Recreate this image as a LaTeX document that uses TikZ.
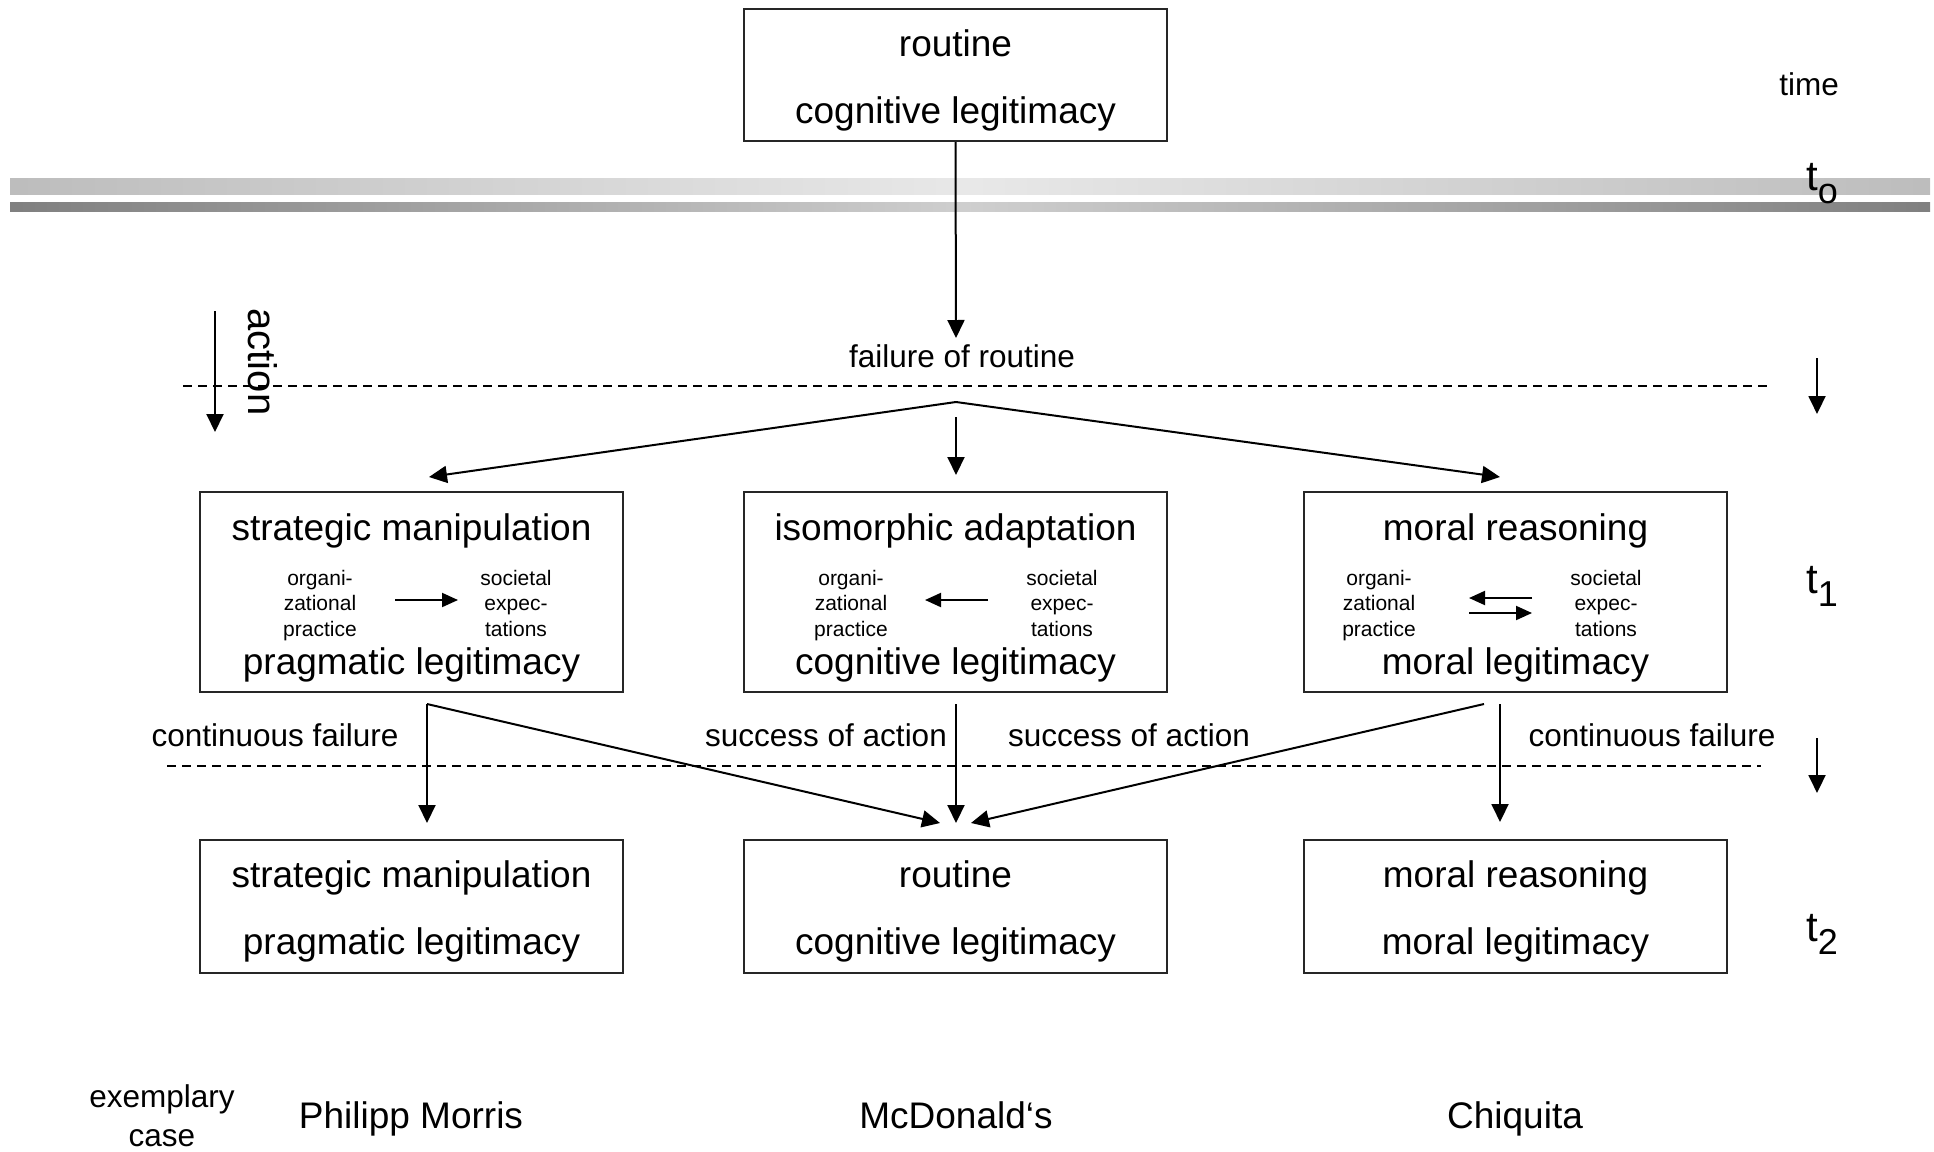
\documentclass[tikz,border=0pt]{standalone}
\usepackage{fontspec}
\setmainfont{Liberation Sans}
\usetikzlibrary{arrows.meta}
\begin{document}
\begin{tikzpicture}[x=1pt,y=-1pt,
  box/.style={draw=black!85, line width=2pt, rectangle, minimum width=423pt, inner sep=0pt},
  big/.style={font=\fontsize{37}{44}\selectfont, inner sep=0pt, anchor=base},
  mid/.style={font=\fontsize{31.5}{38.5}\selectfont, inner sep=0pt, align=center, anchor=base},
  small/.style={font=\fontsize{21}{25.5}\selectfont, align=center, inner sep=0pt, anchor=base},
  arr/.style={line width=2pt, -{Triangle[length=18pt,width=17pt]}},
  sarr/.style={line width=2pt, -{Triangle[length=16pt,width=14pt]}},
  dashline/.style={line width=1.5pt, dash pattern=on 9pt off 6pt},
  tlab/.style={inner sep=0pt, anchor=base west}]
\useasboundingbox (0,0) rectangle (1934,1151);
% time bars
\shade[left color=black!26, right color=black!26, middle color=black!9] (10,178) rectangle (1930,194);
\shade[left color=black!50, right color=black!50, middle color=black!19] (10,202) rectangle (1930,211);
% top box
\node[box, minimum height=132pt] (top) at (955.5,75) {};
\node[big] (topA) at (955.5,56) {routine};
\node[big] (topB) at (955.5,123) {cognitive legitimacy};
\node[mid] (time) at (1809,95) {time};
\node[tlab] (t0) at (1806,190) {\fontsize{42}{42}\selectfont t\raisebox{-13pt}{\fontsize{36}{36}\selectfont o}};
% failure of routine
\coordinate (ftip) at (956,338);
\draw[arr] (top.south) -- (ftip);
\node[mid] (fail) at (962,367) {failure of routine};
\coordinate (d1a) at (183,386);
\coordinate (d1b) at (1772,386);
\draw[dashline] (d1a) -- (d1b);
% action arrow
\coordinate (actA) at (215,311);
\coordinate (actB) at (215,432);
\draw[arr] (actA) -- (actB);
\node[inner sep=0pt, rotate=-90, font=\fontsize{40}{46}\selectfont] (action) at (263,362) {action};
\coordinate (ta1) at (1817,358);
\coordinate (tb1) at (1817,414);
\draw[arr] (ta1) -- (tb1);
% branching
\coordinate (apex) at (956,402);
\coordinate (lt) at (429,477);
\coordinate (rt) at (1500,477);
\coordinate (ms) at (956,417);
\coordinate (mt) at (956,475);
\draw[arr] (apex) -- (lt);
\draw[arr] (apex) -- (rt);
\draw[arr] (ms) -- (mt);
% middle boxes
\node[box, minimum height=200pt] (b1) at (411.5,592) {};
\node[box, minimum height=200pt] (b2) at (955.5,592) {};
\node[box, minimum height=200pt] (b3) at (1515.5,592) {};
\node[big] (b1a) at (411.5,540) {strategic manipulation};
\node[big] (b1b) at (411.5,674) {pragmatic legitimacy};
\node[small] (b1o) at (320,636) {organi-\\zational\\practice};
\node[small] (b1s) at (516,636) {societal\\expec-\\tations};
\coordinate (b1x) at (395,600);
\coordinate (b1y) at (458,600);
\draw[sarr] (b1x) -- (b1y);
\node[big] (b2a) at (955.5,540) {isomorphic adaptation};
\node[big] (b2b) at (955.5,674) {cognitive legitimacy};
\node[small] (b2o) at (851,636) {organi-\\zational\\practice};
\node[small] (b2s) at (1062,636) {societal\\expec-\\tations};
\coordinate (b2x) at (988,600);
\coordinate (b2y) at (925,600);
\draw[sarr] (b2x) -- (b2y);
\node[big] (b3a) at (1515.5,540) {moral reasoning};
\node[big] (b3b) at (1515.5,674) {moral legitimacy};
\node[small] (b3o) at (1379,636) {organi-\\zational\\practice};
\node[small] (b3s) at (1606,636) {societal\\expec-\\tations};
\coordinate (b3x) at (1532,598);
\coordinate (b3y) at (1469,598);
\coordinate (b3z) at (1469,613);
\coordinate (b3w) at (1532,613);
\draw[sarr] (b3x) -- (b3y);
\draw[sarr] (b3z) -- (b3w);
\node[tlab] (t1) at (1806,593) {\fontsize{42}{42}\selectfont t\raisebox{-13pt}{\fontsize{36}{36}\selectfont 1}};
% lower connectors
\coordinate (ls) at (427,704);
\coordinate (ltip) at (427,823);
\coordinate (mtipL) at (940,823);
\coordinate (ms2) at (956,704);
\coordinate (mtip2) at (956,823);
\coordinate (rs) at (1484,704);
\coordinate (mtipR) at (971,823);
\coordinate (rv) at (1500,704);
\coordinate (rtip) at (1500,822);
\draw[arr] (ls) -- (ltip);
\draw[arr] (ls) -- (mtipL);
\draw[arr] (ms2) -- (mtip2);
\draw[arr] (rs) -- (mtipR);
\draw[arr] (rv) -- (rtip);
\coordinate (d2a) at (167,766);
\coordinate (d2b) at (1761,766);
\draw[dashline] (d2a) -- (d2b);
\node[mid] (cf1) at (275,746) {continuous failure};
\node[mid] (sa1) at (826,746) {success of action};
\node[mid] (sa2) at (1129,746) {success of action};
\node[mid] (cf2) at (1652,746) {continuous failure};
\coordinate (ta2) at (1817,738);
\coordinate (tb2) at (1817,793);
\draw[arr] (ta2) -- (tb2);
% bottom boxes
\node[box, minimum height=133pt] (c1) at (411.5,906.5) {};
\node[box, minimum height=133pt] (c2) at (955.5,906.5) {};
\node[box, minimum height=133pt] (c3) at (1515.5,906.5) {};
\node[big] (c1a) at (411.5,887.5) {strategic manipulation};
\node[big] (c1b) at (411.5,954) {pragmatic legitimacy};
\node[big] (c2a) at (955.5,887.5) {routine};
\node[big] (c2b) at (955.5,954) {cognitive legitimacy};
\node[big] (c3a) at (1515.5,887.5) {moral reasoning};
\node[big] (c3b) at (1515.5,954) {moral legitimacy};
\node[tlab] (t2) at (1806,941) {\fontsize{42}{42}\selectfont t\raisebox{-13pt}{\fontsize{36}{36}\selectfont 2}};
% exemplary cases
\node[mid] (ex) at (162,1146) {exemplary\\case};
\node[big] (pm) at (411,1128) {Philipp Morris};
\node[big] (md) at (956,1128) {McDonald‘s};
\node[big] (ch) at (1515,1128) {Chiquita};
\end{tikzpicture}
\end{document}
